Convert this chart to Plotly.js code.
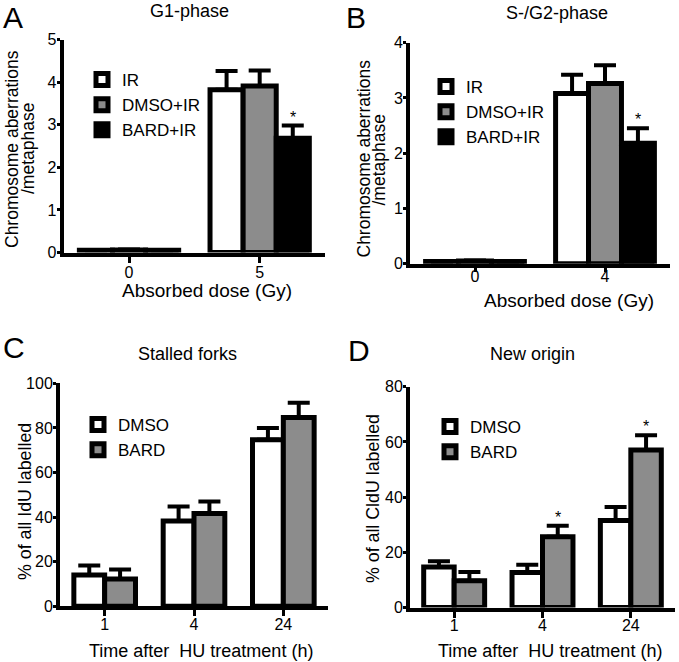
<!DOCTYPE html>
<html><head><meta charset="utf-8">
<script src="https://cdn.plot.ly/plotly-3.0.1.min.js"></script>
<style>html,body{margin:0;padding:0;background:#fff}</style>
</head><body><div id="chart" style="width:679px;height:662px"></div>
<script>
// ---- Panel A: G1-phase ----
const doseA = ['0', '5'];
const irA = [0.05, 3.82];
const irAErr = [0.01, 0.44];
const dmsoIrA = [0.06, 3.91];
const dmsoIrAErr = [0.01, 0.36];
const bardIrA = [0.05, 2.68];
const bardIrAErr = [0.01, 0.30];
const bardIrAStar = ['', '*'];

// ---- Panel B: S-/G2-phase ----
const doseB = ['0', '4'];
const irB = [0.04, 3.08];
const irBErr = [0.01, 0.34];
const dmsoIrB = [0.05, 3.26];
const dmsoIrBErr = [0.01, 0.33];
const bardIrB = [0.04, 2.18];
const bardIrBErr = [0.01, 0.27];
const bardIrBStar = ['', '*'];

// ---- Panel C: Stalled forks ----
const timeC = ['1', '4', '24'];
const dmsoC = [14.0, 38.2, 74.7];
const dmsoCErr = [4.3, 6.6, 5.3];
const bardC = [12.2, 41.6, 84.7];
const bardCErr = [4.3, 5.4, 6.6];

// ---- Panel D: New origin ----
const timeD = ['1', '4', '24'];
const dmsoD = [14.7, 12.7, 31.5];
const dmsoDErr = [2.1, 2.8, 4.9];
const bardD = [9.7, 25.6, 57.1];
const bardDErr = [3.2, 4.0, 5.3];
const bardDStar = ['', '*', '*'];

const FONT = 'Liberation Sans, Arial, sans-serif';
const W = 679, H = 662;
const WHITE = '#ffffff', GREY = '#8c8c8c', BLACK = '#000000';

const traces = [];
const annotations = [];

function axName(ax, l) { return l + (ax === 1 ? '' : ax); }

function addPanel(ax, legendId, cats, series, groupWidth) {
  const n = series.length;
  const bw = groupWidth / n;
  series.forEach((s, i) => {
    const off = -groupWidth / 2 + i * bw;
    traces.push({
      type: 'bar', name: s.name, x: cats, y: s.y,
      xaxis: axName(ax, 'x'), yaxis: axName(ax, 'y'),
      width: bw, offset: off,
      marker: {color: s.color, line: {color: BLACK, width: 5}},
      error_y: {type: 'data', symmetric: false, array: s.err,
                arrayminus: s.y.map(() => 0), color: BLACK, thickness: 4, width: 11},
      legend: legendId, hoverinfo: 'skip'
    });
    if (s.stars) {
      s.stars.forEach((st, k) => {
        if (!st) return;
        annotations.push({
          xref: axName(ax, 'x'), yref: axName(ax, 'y'),
          x: k + off + bw / 2, y: s.y[k] + s.err[k], text: st, showarrow: false,
          yanchor: 'bottom', yshift: -2, font: {family: FONT, size: 16, color: BLACK}
        });
      });
    }
  });
}

addPanel(1, 'legend', doseA, [
  {name: 'IR', y: irA, err: irAErr, color: WHITE},
  {name: 'DMSO+IR', y: dmsoIrA, err: dmsoIrAErr, color: GREY},
  {name: 'BARD+IR', y: bardIrA, err: bardIrAErr, color: BLACK, stars: bardIrAStar}
], 0.76);
addPanel(2, 'legend2', doseB, [
  {name: 'IR', y: irB, err: irBErr, color: WHITE},
  {name: 'DMSO+IR', y: dmsoIrB, err: dmsoIrBErr, color: GREY},
  {name: 'BARD+IR', y: bardIrB, err: bardIrBErr, color: BLACK, stars: bardIrBStar}
], 0.76);
addPanel(3, 'legend3', timeC, [
  {name: 'DMSO', y: dmsoC, err: dmsoCErr, color: WHITE},
  {name: 'BARD', y: bardC, err: bardCErr, color: GREY}
], 0.69);
addPanel(4, 'legend4', timeD, [
  {name: 'DMSO', y: dmsoD, err: dmsoDErr, color: WHITE},
  {name: 'BARD', y: bardD, err: bardDErr, color: GREY, stars: bardDStar}
], 0.69);

function px(x) { return x / W; }
function py(y) { return 1 - y / H; }

function xAxis(d0, d1, anchor, n, tl, so) {
  return {domain: [px(d0), px(d1)], anchor: anchor, type: 'category',
    range: [-0.5, n - 0.5], showline: true, linewidth: 4, linecolor: BLACK,
    ticks: 'outside', ticklen: tl, tickwidth: 3, tickcolor: BLACK,
    ticklabelstandoff: so,
    showgrid: false, zeroline: false, fixedrange: true,
    tickfont: {family: FONT, size: 16, color: BLACK}};
}
function yAxis(b, t, anchor, max, dt) {
  return {domain: [py(b), py(t)], anchor: anchor, range: [0, max], dtick: dt,
    showline: true, linewidth: 4, linecolor: BLACK,
    ticks: 'outside', ticklen: 3, tickwidth: 3, tickcolor: BLACK,
    ticklabelstandoff: -3,
    showgrid: false, zeroline: false, fixedrange: true,
    tickfont: {family: FONT, size: 16, color: BLACK}};
}

function txt(text, x, y, size, angle, yanchor) {
  annotations.push({xref: 'paper', yref: 'paper', x: px(x), y: py(y), text: text,
    showarrow: false, xanchor: 'center', yanchor: yanchor || 'middle', textangle: angle || 0,
    borderpad: 0, font: {family: FONT, size: size, color: BLACK}});
}
// panel letters
txt('A', 13, 0, 30, 0, 'top'); txt('B', 356, 0, 30, 0, 'top');
txt('C', 14, 330, 30, 0, 'top'); txt('D', 359, 333, 30, 0, 'top');
// titles
txt('G1-phase', 189, 11, 18); txt('S-/G2-phase', 557, 13, 18);
txt('Stalled forks', 187, 354, 18); txt('New origin', 532, 354, 18);
// x titles
txt('Absorbed dose (Gy)', 207, 290, 19); txt('Absorbed dose (Gy)', 569, 300, 19);
txt('Time after  HU treatment (h)', 201, 651, 18); txt('Time after  HU treatment (h)', 550, 651, 18);
// y titles (two-line titles set line by line for tight leading)
txt('Chromosome aberrations', 12, 149, 17.5, -90);
txt('/metaphase', 28, 149, 17.5, -90);
txt('Chromosome aberrations', 363.5, 159, 17.5, -90);
txt('/metaphase', 378.5, 160, 17.5, -90);
txt('% of all IdU labelled', 25, 502, 17.8, -90);
txt('% of all CldU labelled', 373, 499, 17.8, -90);

function legend(x, y, fs) {
  return {x: px(x), y: py(y), xanchor: 'left', yanchor: 'top', bgcolor: 'rgba(0,0,0,0)',
    borderwidth: 0, font: {family: FONT, size: fs, color: BLACK}, tracegroupgap: 0,
    itemclick: false, itemdoubleclick: false, traceorder: 'normal'};
}

const layout = {
  width: W, height: H, margin: {l: 0, r: 0, t: 0, b: 0},
  paper_bgcolor: WHITE, plot_bgcolor: 'rgba(0,0,0,0)',
  barmode: 'overlay', showlegend: true,
  xaxis: xAxis(63.7, 325, 'y', 2, 6, -4), yaxis: yAxis(252.5, 39.5, 'x', 5, 1),
  xaxis2: xAxis(410, 670, 'y2', 2, 4, -9), yaxis2: yAxis(263.7, 42.7, 'x2', 4, 1),
  xaxis3: xAxis(60, 328, 'y3', 3, 6, -6), yaxis3: yAxis(606.3, 383.3, 'x3', 100, 20),
  xaxis4: xAxis(410, 675, 'y4', 3, 6, -6), yaxis4: yAxis(607.5, 386.7, 'x4', 80, 20),
  legend: legend(82, 62, 17), legend2: legend(426, 69, 17),
  legend3: legend(78, 407, 17), legend4: legend(430, 409, 17),
  annotations: annotations
};

Plotly.newPlot('chart', traces, layout, {displayModeBar: false, staticPlot: true});
</script></body></html>
